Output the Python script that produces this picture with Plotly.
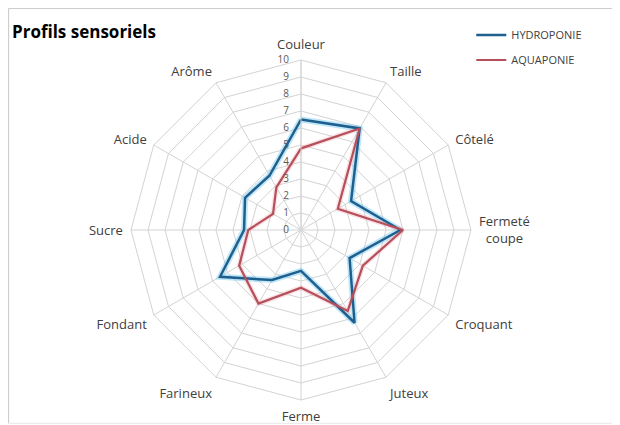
import plotly.graph_objects as go

categories = ["Couleur", "Taille", "Côtelé", "Fermeté<br>\u00a0\u00a0coupe", "Croquant", "Juteux",
              "Ferme", "Farineux", "Fondant", "Sucre", "Acide", "Arôme"]
hydroponie = [6.5, 6.9, 3.4, 5.85, 3.3, 6.3, 2.4, 3.4, 5.5, 3.35, 3.8, 3.7]
aquaponie = [4.8, 6.9, 2.5, 6.0, 4.2, 5.5, 3.4, 5.0, 4.2, 3.1, 1.9, 2.9]
radial_ticks = list(range(0, 11))

BLUE = "#1F5F8E"
RED = "#B5505A"

# the page body has an 8px margin: figure coordinates are page coordinates - 8
W, H = 612, 417
CX, CY, R = 301 - 8, 230 - 8, 170   # centre / radius in figure pixels


def closed(vals):
    return vals + vals[:1]


cats_c = closed(categories)

fig = go.Figure()
fig.add_trace(go.Scatterpolar(r=closed(hydroponie), theta=cats_c, mode="lines",
                              line=dict(color="rgba(110,200,240,0.45)", width=6),
                              showlegend=False, hoverinfo="skip"))
fig.add_trace(go.Scatterpolar(r=closed(aquaponie), theta=cats_c, mode="lines",
                              line=dict(color="rgba(240,170,180,0.35)", width=5),
                              showlegend=False, hoverinfo="skip"))
fig.add_trace(go.Scatterpolar(r=closed(hydroponie), theta=cats_c, mode="lines",
                              name="HYDROPONIE", legendgroup="h",
                              line=dict(color=BLUE, width=2.5)))
fig.add_trace(go.Scatterpolar(r=closed(aquaponie), theta=cats_c, mode="lines",
                              name="AQUAPONIE", legendgroup="a",
                              line=dict(color=RED, width=2.2)))

fig.update_layout(
    width=W, height=H,
    margin=dict(l=0, r=0, t=0, b=0),
    paper_bgcolor="white",
    font=dict(family="Open Sans, sans-serif", color="#404040"),
    polar=dict(
        domain=dict(x=[(CX - R) / W, (CX + R) / W],
                    y=[(H - CY - R) / H, (H - CY + R) / H]),
        bgcolor="white",
        gridshape="linear",
        radialaxis=dict(range=[0, 10], tickvals=radial_ticks, angle=90,
                        side="counterclockwise", tickangle=90,
                        showline=True, linecolor="#D3D3D3", linewidth=1,
                        gridcolor="#D3D3D3", gridwidth=1,
                        ticks="outside", ticklen=8, tickcolor="rgba(0,0,0,0)",
                        tickfont=dict(size=10, color="#595959")),
        angularaxis=dict(direction="clockwise", rotation=90,
                         categoryarray=categories, categoryorder="array",
                         showline=True, linecolor="#D3D3D3", linewidth=1,
                         gridcolor="#D3D3D3",
                         ticks="outside", ticklen=5, tickcolor="rgba(0,0,0,0)",
                         tickfont=dict(size=13, color="#404040")),
    ),
    legend=dict(x=0.757, y=0.97, xanchor="left", yanchor="top",
                font=dict(size=11, color="#404040"),
                tracegroupgap=6, bgcolor="rgba(0,0,0,0)"),
    shapes=[
        dict(type="line", xref="paper", yref="paper", x0=0.001, x1=0.001,
             y0=0.004, y1=0.999, line=dict(color="#C8C8C8", width=1)),
        dict(type="line", xref="paper", yref="paper", x0=0.001, x1=1,
             y0=0.999, y1=0.999, line=dict(color="#C8C8C8", width=1)),
        dict(type="line", xref="paper", yref="paper", x0=0.001, x1=1,
             y0=0.004, y1=0.004, line=dict(color="#E8E8E8", width=1)),
    ],
    annotations=[dict(text="<b>Profils sensoriels</b>", x=2 / W, y=1 - 24 / H,
                      xref="paper", yref="paper", xanchor="left", yanchor="middle",
                      showarrow=False, font=dict(size=17, color="#000000"))],
)

fig.write_html("out.html")
